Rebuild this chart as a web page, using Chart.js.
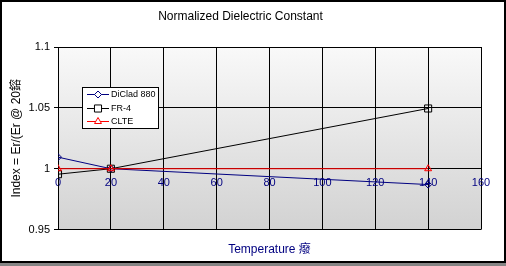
<!DOCTYPE html>
<html>
<head>
<meta charset="UTF-8">
<title>Normalized Dielectric Constant</title>
<script src="https://cdn.jsdelivr.net/npm/chart.js"></script>
<style>
    body { margin: 0; background: #ffffff; }
    canvas { display: block; }
</style>
</head>
<body>
<canvas id="chart" width="506" height="266"></canvas>
<script>
    const temps = [0, 20, 140];
    const diclad = [1.0095, 1.000, 0.987];
    const fr4 = [0.9955, 1.000, 1.0495];
    const clte = [1.000, 1.000, 1.000];
    const seriesNames = ['DiClad 880', 'FR-4', 'CLTE'];
    const xTicks = [0, 20, 40, 60, 80, 100, 120, 140, 160];
    const yTicks = [0.95, 1, 1.05, 1.1];

    const FONT = "'Liberation Sans', Arial, 'Noto Sans CJK SC', sans-serif";
    const NAVY = '#000080';

    function pts(vals) {
        return temps.map((t, i) => ({ x: t, y: vals[i] }));
    }

    // frame + plot area gradient
    const backdrop = {
        id: 'backdrop',
        beforeDraw(chart) {
            const ctx = chart.ctx;
            const w = chart.width, h = chart.height;
            ctx.save();
            ctx.fillStyle = '#ffffff';
            ctx.fillRect(0, 0, w, h);
            ctx.fillStyle = '#000000';
            ctx.fillRect(0, 0, 2, 263);
            ctx.fillRect(0, 0, w, 2);
            ctx.fillRect(w - 2, 0, 2, 263);
            ctx.fillRect(0, 261, w, 2);
            ctx.fillStyle = '#858585';
            ctx.fillRect(0, 263, w, h - 263);
            const a = chart.chartArea;
            const g = ctx.createLinearGradient(0, a.top, 0, a.bottom);
            g.addColorStop(0, '#f9f9f9');
            g.addColorStop(1, '#d2d2d2');
            ctx.fillStyle = g;
            ctx.fillRect(a.left, a.top, a.right - a.left, a.bottom - a.top);
            ctx.restore();
        }
    };

    // Excel style legend box: line with marker, then label
    const boxLegend = {
        id: 'boxLegend',
        afterDraw(chart) {
            const ctx = chart.ctx;
            const x0 = 82, y0 = 87, w = 76, h = 41;
            ctx.save();
            ctx.fillStyle = '#ffffff';
            ctx.fillRect(x0, y0, w, h);
            ctx.strokeStyle = '#000000';
            ctx.lineWidth = 1;
            ctx.strokeRect(x0 + 0.5, y0 + 0.5, w, h);
            ctx.font = '9px ' + FONT;
            ctx.textBaseline = 'middle';
            chart.data.datasets.forEach((ds, i) => {
                const y = Math.round(y0 + 7 + i * 13.5) + 0.5;
                ctx.strokeStyle = ds.borderColor;
                ctx.lineWidth = 1;
                ctx.beginPath();
                ctx.moveTo(x0 + 5, y);
                ctx.lineTo(x0 + 27, y);
                ctx.stroke();
                ctx.fillStyle = '#ffffff';
                Chart.helpers.drawPoint(ctx, {
                    pointStyle: ds.pointStyle, radius: ds.pointRadius, borderWidth: 1, rotation: 0
                }, x0 + 16, y);
                ctx.fillStyle = '#000000';
                ctx.fillText(ds.label, x0 + 29, y);
            });
            ctx.restore();
        }
    };

    const datasets = [
        { label: seriesNames[0], data: pts(diclad), borderColor: NAVY, pointStyle: 'rectRot', pointRadius: 3.5, order: 2 },
        { label: seriesNames[1], data: pts(fr4), borderColor: '#000000', pointStyle: 'rect', pointRadius: 5, order: 1 },
        { label: seriesNames[2], data: pts(clte), borderColor: '#ff0000', pointStyle: 'triangle', pointRadius: 4, order: 0 }
    ].map(d => Object.assign(d, {
        borderWidth: 1,
        pointBorderWidth: 1,
        pointBackgroundColor: 'rgba(0,0,0,0)',
        pointBorderColor: d.borderColor,
        tension: 0,
        xAxisID: 'x',
        yAxisID: 'y'
    }));

    new Chart(document.getElementById('chart'), {
        type: 'line',
        data: { datasets },
        options: {
            responsive: false,
            animation: false,
            devicePixelRatio: 1,
            layout: { padding: { left: 0, right: 25, top: 0, bottom: 0 } },
            plugins: {
                legend: { display: false },
                tooltip: { enabled: false },
                title: {
                    display: true,
                    text: 'Normalized Dielectric Constant',
                    color: '#000000',
                    font: { family: FONT, size: 12, weight: 'normal', lineHeight: 1.2 },
                    padding: { top: 9, bottom: 23.6 }
                }
            },
            scales: {
                x: {
                    type: 'linear',
                    position: { y: 1 },
                    min: 0,
                    max: 160,
                    afterBuildTicks: s => { s.ticks = xTicks.map(v => ({ value: v })); },
                    afterFit: s => { s.height = 0; },
                    grid: { color: '#000000', lineWidth: 1, drawTicks: false },
                    border: { display: true, color: '#000000', width: 1 },
                    ticks: {
                        color: NAVY,
                        padding: 8,
                        maxRotation: 0,
                        autoSkip: false,
                        font: { family: FONT, size: 11 }
                    }
                },
                xb: {
                    type: 'linear',
                    position: 'bottom',
                    min: 0,
                    max: 160,
                    grid: { display: false, drawTicks: false },
                    border: { display: false },
                    ticks: { display: false },
                    title: {
                        display: true,
                        text: 'Temperature 癈',
                        color: NAVY,
                        font: { family: FONT, size: 12, lineHeight: 1.2 },
                        padding: { top: 13, bottom: 9 }
                    }
                },
                y: {
                    type: 'linear',
                    position: 'left',
                    min: 0.95,
                    max: 1.1,
                    afterBuildTicks: s => { s.ticks = yTicks.map(v => ({ value: v })); },
                    afterFit: s => { s.width = 58; },
                    grid: { color: '#000000', lineWidth: 1, tickLength: 4 },
                    border: { display: true, color: '#000000', width: 1 },
                    ticks: {
                        color: '#000000',
                        padding: 4,
                        font: { family: FONT, size: 11 },
                        callback: v => String(Math.round(v * 100) / 100)
                    },
                    title: {
                        display: true,
                        text: 'Index = Er/(Er @ 20鎔',
                        color: '#000000',
                        font: { family: FONT, size: 12, lineHeight: 1.2 },
                        padding: { top: 9, bottom: 0 }
                    }
                }
            }
        },
        plugins: [backdrop, boxLegend]
    });
</script>
</body>
</html>
